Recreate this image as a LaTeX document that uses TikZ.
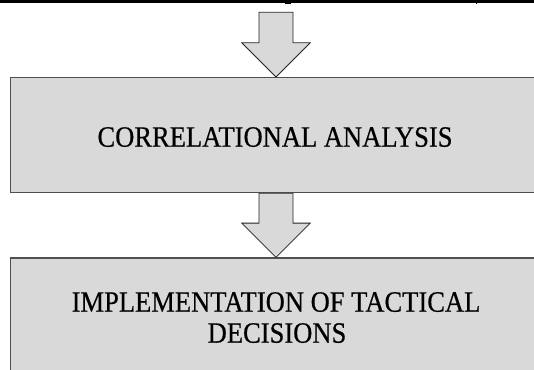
\documentclass[tikz,border=0pt]{standalone}
\usepackage{fontspec}
\setmainfont[FakeStretch=0.9,FakeBold=0.5]{Liberation Serif}
\usetikzlibrary{calc}
\definecolor{boxfill}{RGB}{217,217,217}
\definecolor{boxline}{RGB}{80,80,80}
\definecolor{arrline}{RGB}{35,35,35}
\tikzset{
  stagebox/.style={rectangle, draw=boxline, fill=boxfill, line width=1.3pt, minimum width=530.6pt, inner sep=0pt},
  lbl/.style={font=\fontsize{29.5}{31}\selectfont, inner sep=0pt, text=black},
  blockarrow/.style={draw=arrline, fill=boxfill, line width=0.8pt, line join=miter},
  rulebar/.style={fill=black},
}
\newcommand{\blockarrowfromto}[2]{%
  \draw[blockarrow] ($(#1)+(-17,0)$) -- ($(#2)+(-17,34.2)$) -- ($(#2)+(-34.2,34.2)$)
    -- (#2) -- ($(#2)+(34.2,34.2)$) -- ($(#2)+(17,34.2)$) -- ($(#1)+(17,0)$) -- cycle;}
\begin{document}
\begin{tikzpicture}[x=1pt,y=1pt]
  \useasboundingbox (0,0) rectangle (534,369);
  \clip (0,0) rectangle (534,369);
  % top rule with glyph remnants
  \fill[rulebar] (0,366.3) rectangle (534,370);
  \fill[rulebar] (285,365) rectangle (291,367);
  \fill[rulebar] (475.5,365) rectangle (476.5,367);
  % boxes
  \node[stagebox, minimum height=115pt] (box1) at (276,233.8) {};
  \node[stagebox, minimum height=130pt] (box2) at (276,46) {};
  % labels
  \node[lbl, anchor=base] (t1) at (275,222.3) {CORRELATIONAL ANALYSIS};
  \node[lbl, anchor=base] (t2a) at (276,57.3) {IMPLEMENTATION OF TACTICAL};
  \node[lbl, anchor=base] (t2b) at (277,26.3) {DECISIONS};
  % arrows
  \coordinate (a1top) at (276,356.7);
  \blockarrowfromto{a1top}{box1.north}
  \blockarrowfromto{box1.south}{box2.north}
\end{tikzpicture}
\end{document}
